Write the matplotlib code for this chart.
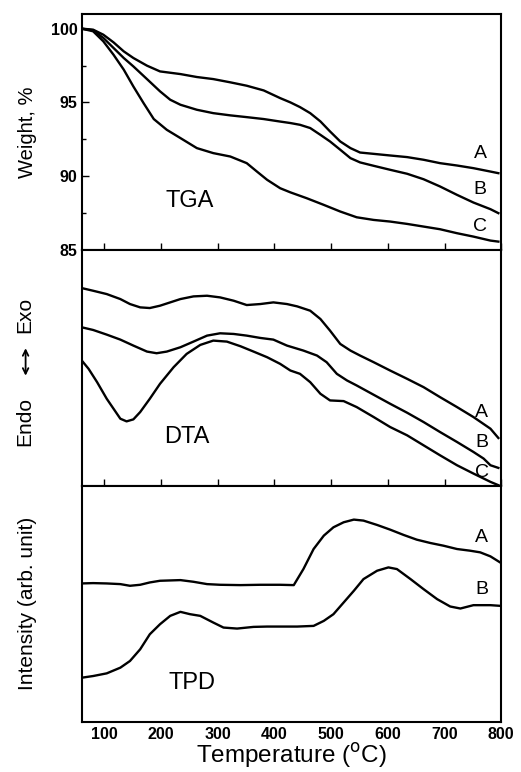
import numpy as np
import matplotlib.pyplot as plt

plt.rcParams['font.family'] = ['Liberation Sans', 'DejaVu Sans']

# ---------------------------
# TGA data (weight %)
# ---------------------------
tga_a_t = [60, 80, 98, 116, 134, 151, 175, 198, 234, 263, 292, 322, 351, 381, 410, 428,
           445, 463, 481, 498, 516, 534, 551, 575, 604, 634, 663, 692, 722, 751, 781, 795]
tga_a_w = [100, 99.93, 99.59, 99.07, 98.46, 98.01, 97.49, 97.10, 96.92, 96.72, 96.58, 96.36, 96.13, 95.81, 95.29, 95.0,
           94.68, 94.27, 93.71, 93.03, 92.35, 91.90, 91.60, 91.51, 91.40, 91.29, 91.11, 90.88, 90.72, 90.54, 90.31, 90.20]

tga_b_t = [60, 80, 98, 116, 134, 151, 175, 198, 216, 234, 263, 292, 322, 351, 381, 410, 428,
           445, 463, 481, 498, 516, 534, 551, 575, 604, 634, 663, 692, 722, 751, 781, 795]
tga_b_w = [100, 99.89, 99.37, 98.69, 98.01, 97.44, 96.58, 95.75, 95.18, 94.84, 94.50, 94.27, 94.12, 94.0, 93.87, 93.70, 93.60,
           93.48, 93.26, 92.80, 92.35, 91.79, 91.22, 90.93, 90.70, 90.43, 90.16, 89.79, 89.30, 88.73, 88.21, 87.76, 87.49]

tga_c_t = [60, 80, 98, 116, 134, 151, 169, 187, 210, 234, 263, 292, 322, 351, 369, 387, 410, 428,
           457, 487, 516, 545, 575, 604, 634, 663, 692, 722, 751, 781, 795]
tga_c_w = [100, 99.82, 99.14, 98.23, 97.22, 96.08, 94.95, 93.87, 93.14, 92.58, 91.90, 91.56, 91.33, 90.88, 90.31, 89.75, 89.18, 88.9,
           88.50, 88.05, 87.60, 87.21, 87.03, 86.92, 86.76, 86.58, 86.40, 86.13, 85.90, 85.63, 85.56]

# ---------------------------
# DTA data (arb.)
# ---------------------------
dta_a_t = [60, 80, 104, 128, 145, 163, 180, 198, 216, 234, 257, 281, 304, 328, 351, 375, 398, 422,
           440, 463, 481, 498, 516, 534, 551, 575, 604, 634, 663, 692, 722, 751, 781, 795]
dta_a_v = [59.5, 58.7, 57.7, 56.2, 54.7, 53.7, 53.5, 54.2, 55.2, 56.2, 57.0, 57.2, 56.7, 55.7, 54.4, 54.7, 55.2, 54.7,
           54.0, 52.7, 50.2, 46.7, 42.7, 40.7, 39.2, 37.2, 34.7, 32.2, 29.7, 26.7, 23.7, 20.7, 17.2, 14.4]

dta_b_t = [60, 80, 104, 128, 151, 175, 192, 210, 234, 257, 281, 304, 328, 351, 375, 398, 422,
           451, 475, 492, 510, 528, 545, 575, 604, 634, 663, 692, 722, 751, 769, 781, 795]
dta_b_v = [47.7, 46.9, 45.5, 44.0, 42.2, 40.4, 39.9, 40.4, 41.7, 43.4, 45.2, 45.9, 45.7, 45.2, 44.5, 44.0, 42.2,
           40.7, 39.2, 37.2, 33.7, 31.7, 30.2, 27.4, 24.7, 22.0, 19.2, 16.2, 13.2, 10.2, 8.2, 6.2, 5.4]

dta_c_t = [60, 72, 87, 104, 116, 128, 139, 151, 163, 180, 198, 222, 245, 269, 292, 316, 340, 363, 387, 410, 428,
           445, 463, 481, 498, 522, 545, 575, 604, 634, 663, 692, 722, 751, 769, 781, 795]
dta_c_v = [37.7, 35.2, 31.2, 26.2, 23.2, 20.2, 19.4, 20.0, 22.2, 26.2, 30.7, 35.7, 39.7, 42.4, 43.7, 43.4, 42.0, 40.4, 38.7, 36.7, 34.7,
           33.7, 31.2, 27.7, 25.7, 25.5, 23.7, 20.7, 17.7, 15.2, 12.2, 9.2, 6.2, 3.7, 2.2, 1.2, 0.2]

# ---------------------------
# TPD data (arb.)
# ---------------------------
tpd_a_t = [60, 80, 104, 128, 145, 163, 180, 198, 234, 257, 281, 304, 340, 375, 410, 434,
           451, 469, 487, 504, 522, 540, 557, 581, 604, 628, 651, 675, 698, 722, 745, 763, 781, 798]
tpd_a_v = [41.4, 41.5, 41.4, 41.2, 40.7, 41.0, 41.7, 42.2, 42.4, 41.9, 41.2, 41.0, 40.9, 41.0, 41.0, 40.9,
           45.7, 51.7, 55.7, 58.2, 59.7, 60.5, 60.2, 58.9, 57.5, 55.9, 54.5, 53.5, 52.7, 51.7, 51.2, 50.7, 49.5, 47.7]

tpd_b_t = [60, 80, 104, 128, 145, 163, 180, 198, 216, 234, 251, 269, 292, 310, 334, 363, 387, 410, 440,
           469, 487, 504, 522, 540, 557, 581, 601, 616, 640, 663, 687, 710, 728, 751, 781, 798]
tpd_b_v = [13.2, 13.7, 14.5, 16.2, 18.2, 21.7, 26.2, 29.2, 31.7, 32.9, 32.2, 31.7, 29.7, 28.2, 27.9, 28.4, 28.5, 28.5, 28.5,
           28.7, 30.2, 32.2, 35.7, 39.2, 42.7, 45.2, 46.2, 45.7, 42.7, 39.7, 36.7, 34.5, 33.9, 34.9, 34.9, 34.7]

x_ticks = [100, 200, 300, 400, 500, 600, 700, 800]

# ---------------------------
# Figure
# ---------------------------
fig, axes = plt.subplots(3, 1, figsize=(5.21, 7.72), dpi=100, sharex=True)
fig.subplots_adjust(left=0.157, right=0.962, top=0.982, bottom=0.065, hspace=0)

lw = 1.7
lab_x = -0.136      # centre of the rotated side labels
ylab_x = -0.108     # ylabel anchor (text sits left of it)
ax1, ax2, ax3 = axes

ax1.plot(tga_a_t, tga_a_w, color='black', lw=lw)
ax1.plot(tga_b_t, tga_b_w, color='black', lw=lw)
ax1.plot(tga_c_t, tga_c_w, color='black', lw=lw)
ax1.set_ylim(85, 101)
ax1.set_yticks([85, 90, 95, 100])
ax1.set_yticks([87.5, 92.5, 97.5], minor=True)
ax1.set_ylabel('Weight, %', fontsize=14.5)
ax1.text(251, 88.3, 'TGA', fontsize=17, ha='center', va='center')
for lab, yy in zip(['A', 'B', 'C'], [91.56, 89.07, 86.6]):
    ax1.text(763, yy, lab, fontsize=14, ha='center', va='center')

ax2.plot(dta_a_t, dta_a_v, color='black', lw=lw)
ax2.plot(dta_b_t, dta_b_v, color='black', lw=lw)
ax2.plot(dta_c_t, dta_c_v, color='black', lw=lw)
ax2.set_ylim(0, 71)
ax2.set_yticks([])
# Endo <-> Exo label with a vertical double arrow
ax2.text(lab_x, 0.274, 'Endo', fontsize=15, rotation=90, ha='center', va='center',
         transform=ax2.transAxes)
ax2.text(lab_x, 0.726, 'Exo', fontsize=15, rotation=90, ha='center', va='center',
         transform=ax2.transAxes)
ax2.annotate('', xy=(lab_x + 0.002, 0.595), xytext=(lab_x + 0.002, 0.455), xycoords='axes fraction',
             arrowprops=dict(arrowstyle='<->', lw=1.3, color='black'), annotation_clip=False)
ax2.text(245, 14.7, 'DTA', fontsize=17, ha='center', va='center')
for lab, yy in zip(['A', 'B', 'C'], [22.2, 12.9, 3.9]):
    ax2.text(766, yy, lab, fontsize=14, ha='center', va='center')

ax3.plot(tpd_a_t, tpd_a_v, color='black', lw=lw)
ax3.plot(tpd_b_t, tpd_b_v, color='black', lw=lw)
ax3.set_ylim(0, 70.6)
ax3.set_yticks([])
ax3.set_ylabel('Intensity (arb. unit)', fontsize=15)
ax3.text(254, 11.7, 'TPD', fontsize=17, ha='center', va='center')
for lab, yy in zip(['A', 'B'], [55.2, 39.5]):
    ax3.text(766, yy, lab, fontsize=14, ha='center', va='center')

ax3.set_xlim(60, 800)
ax3.set_xticks(x_ticks)
ax3.set_xlabel('Temperature ($^{\\rm o}$C)', fontsize=17.5, labelpad=-1)

for ax in axes:
    ax.tick_params(direction='in', length=5, width=1, labelsize=11.5, pad=3)
    ax.tick_params(which='minor', direction='in', length=3, width=1)
    for lbl in ax.get_xticklabels() + ax.get_yticklabels():
        lbl.set_fontweight('bold')
    for sp in ax.spines.values():
        sp.set_linewidth(1.5)
    ax.yaxis.set_label_coords(ylab_x, 0.5)
ax3.tick_params(axis='x', length=0, pad=4)

fig.savefig('out.png', dpi=100)
